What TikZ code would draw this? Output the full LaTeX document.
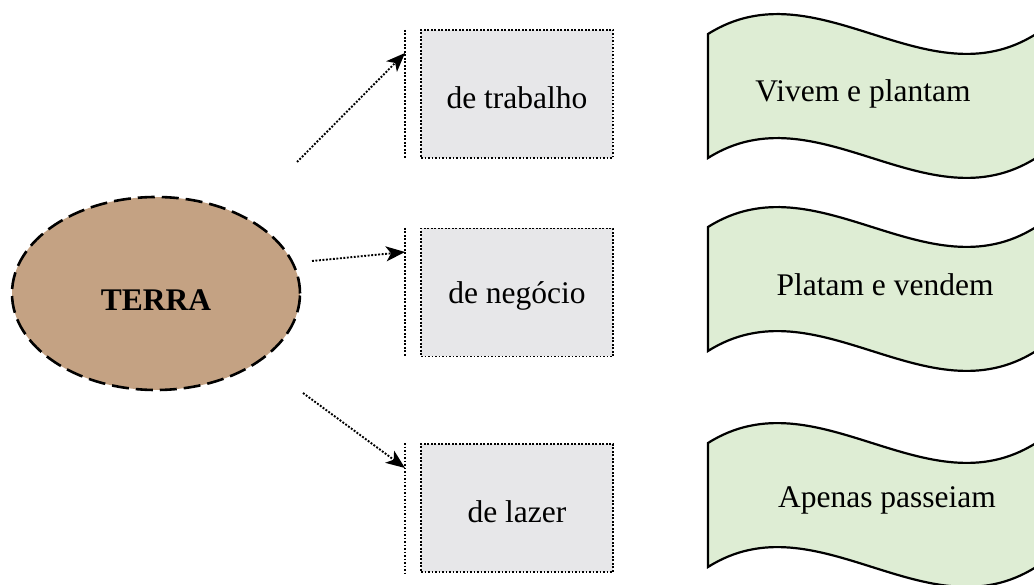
\documentclass[tikz,border=0pt]{standalone}
\usepackage{fontspec}
\setmainfont{Liberation Serif}
\usetikzlibrary{arrows.meta,shapes.geometric}

\definecolor{earth}{HTML}{C4A283}
\definecolor{boxgray}{HTML}{E7E7E9}
\definecolor{leaf}{HTML}{DEEDD4}

\begin{document}
\begin{tikzpicture}[x=1pt,y=-1pt,
  txt/.style={font=\fontsize{31.5}{36}\selectfont},
  dots/.style={line width=1.9pt, dash pattern=on 1.9pt off 1.6pt},
  usebox/.style={draw, dots, fill=boxgray, minimum width=192pt,
    minimum height=128pt, inner sep=0pt},
  bar/.style={draw, dots},
  link/.style={draw, dots, -{Stealth[length=19pt,width=15pt,inset=5pt]}},
  flag/.pic={
    \path[draw, line width=2.2pt, fill=leaf]
      (0,0) .. controls (109.3,-69) and (218.7,69) .. (328,0)
      -- (328,124) .. controls (218.7,193) and (109.3,55) .. (0,124)
      -- cycle;
  }
]
\useasboundingbox (0,0) rectangle (1034,585);
\clip (0,0) rectangle (1034,585);

% central ellipse
\node[ellipse, draw, line width=2.6pt, dash pattern=on 17pt off 7pt,
  fill=earth, minimum width=288pt, minimum height=193pt, inner sep=0pt]
  (terra) at (156,293.5) {};
\node[font=\fontsize{31.5}{36}\selectfont\bfseries] (terralabel)
  at (156,300) {TERRA};

% kinds of use
\node[usebox] (trab) at (517,94) {};
\node[usebox] (nego) at (517,292.5) {};
\node[usebox] (laze) at (517,508) {};
\node[txt] (trabl) at (517,98) {de trabalho};
\node[txt] (negol) at (517,296) {de negócio};
\node[txt] (lazel) at (517,512) {de lazer};

% dotted bars in front of the boxes
\draw[bar] (405,30) -- (405,158);
\draw[bar] (405,228) -- (405,357);
\draw[bar] (405,443) -- (405,573);

% connector ends
\coordinate (s1) at (297,162);
\coordinate (s2) at (312,261);
\coordinate (s3) at (303,393);
\coordinate (e1) at (405,53);
\coordinate (e2) at (405,252);
\coordinate (e3) at (405,468);

\draw[link] (s1) -- (e1);
\draw[link] (s2) -- (e2);
\draw[link] (s3) -- (e3);

% wavy banners
\pic at (708,34) {flag};
\pic at (708,227) {flag};
\pic at (708,443) {flag};

\node[txt] (w1) at (863,94) {Vivem e plantam};
\node[txt] (w2) at (885,285) {Platam e vendem};
\node[txt] (w3) at (887,500) {Apenas passeiam};
\end{tikzpicture}
\end{document}
